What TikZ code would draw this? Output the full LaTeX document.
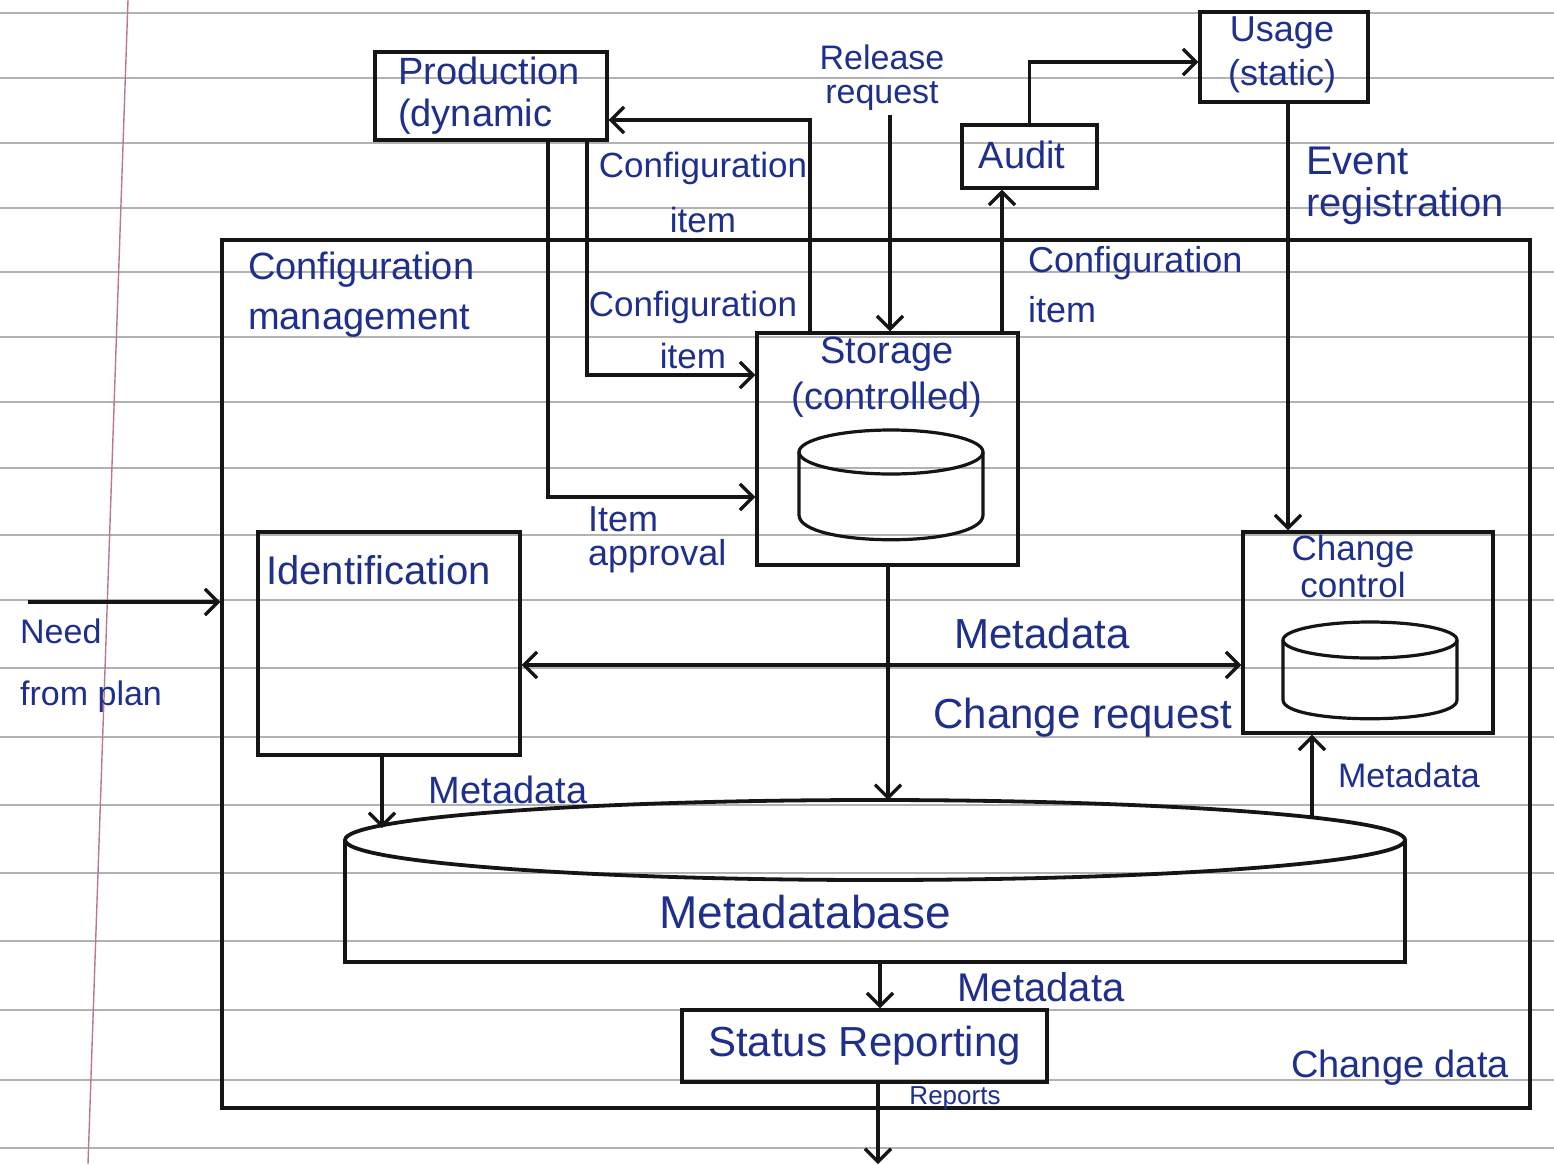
\documentclass[tikz,border=0pt]{standalone}
\usepackage{fontspec}
\setmainfont{Liberation Sans}
\usetikzlibrary{arrows.meta,calc}
\definecolor{inkblue}{HTML}{1E2F8C}
\definecolor{inkblack}{HTML}{151515}
\definecolor{marginred}{HTML}{B9788C}
\newcommand\lfs[2]{\fontsize{#1}{#2}\selectfont}
\tikzset{
  mytip/.tip={Straight Barb[length=13pt,width=26pt]},
  box/.style={draw=inkblack, line width=3.4pt, inner sep=0pt},
  conn/.style={draw=inkblack, line width=3.3pt, -mytip},
  dconn/.style={draw=inkblack, line width=3.3pt, mytip-mytip},
  lbl/.style={text=inkblue, inner sep=0pt},
  rule/.style={draw=black!30, line width=1.6pt},
  shapeline/.style={draw=inkblack, line width=3.2pt},
}
\begin{document}
\begin{tikzpicture}[x=1pt,y=-1pt]
\useasboundingbox (0,0) rectangle (1554,1164);
\fill[white] (0,0) rectangle (1554,1164);
% lined paper
\foreach \yy in {13,78,143,208,272,337,402,468,535,600,668,737,805,873,941,1010,1080,1148}
  \draw[rule] (0,\yy) -- (1554,\yy);
\draw[marginred, line width=1.4pt] (128,0) -- (88,1164);

% outer configuration management box
\node[box, minimum width=1308pt, minimum height=868pt] (cm) at (876,674) {};
\node[lbl, anchor=west, align=left, font=\lfs{38}{50}] (cmt) at (248,295) {Configuration\\management};

% boxes
\node[box, minimum width=232pt, minimum height=88pt] (prod) at (491,96) {};
\node[lbl, anchor=west, align=left, font=\lfs{38}{42}] (prodt) at (398,96) {Production\\(dynamic};

\node[box, minimum width=168pt, minimum height=90pt] (usage) at (1284,57) {};
\node[lbl, align=center, font=\lfs{36}{44}] (usaget) at (1282,55) {Usage\\(static)};

\node[box, minimum width=135pt, minimum height=63pt] (audit) at (1029.5,156.5) {};
\node[lbl, font=\lfs{38}{42}] (auditt) at (1022,155) {Audit};

\node[box, minimum width=261pt, minimum height=232pt] (stor) at (887.5,449) {};
\node[lbl, align=center, font=\lfs{38}{46}] (stort) at (887,377) {Storage\\(controlled)};

\node[box, minimum width=250pt, minimum height=201pt] (cc) at (1368,632.5) {};
\node[lbl, align=center, font=\lfs{35}{37}] (cct) at (1353,566) {Change\\control};

\node[box, minimum width=262pt, minimum height=223pt] (id) at (389,643.5) {};
\node[lbl, anchor=west, font=\lfs{40}{44}] (idt) at (266,570) {Identification};

\node[box, minimum width=365pt, minimum height=72pt, font=\lfs{42}{46}, text=inkblue] (sr) at (864.5,1046) {Status Reporting};

% storage cylinder
\draw[shapeline] (891,452) ellipse [x radius=92, y radius=22];
\draw[shapeline] (799,452) -- (799,515) .. controls (799,548) and (983,548) .. (983,515) -- (983,452);
% change control cylinder
\draw[shapeline] (1370,640) ellipse [x radius=87, y radius=18];
\draw[shapeline] (1283,640) -- (1283,700) .. controls (1283,725) and (1457,725) .. (1457,700) -- (1457,640);

% metadatabase
\node[minimum width=1060pt, minimum height=162pt, inner sep=0pt] (mdb) at (875,881) {};
\draw[shapeline, line width=3.8pt] (875,840) ellipse [x radius=530, y radius=40];
\draw[shapeline] (345,840) -- (345,962) -- (1405,962) -- (1405,840);
\node[lbl, font=\lfs{46}{50}] (mdbt) at (805,912) {Metadatabase};

% connectors
\coordinate (needS) at (28,602);
\draw[conn] (needS) -- (needS -| cm.west);
\node[lbl, anchor=west, align=left, font=\lfs{34}{62}] (needt) at (20,666) {Need\\from plan};

\coordinate (relS) at (890,115);
\draw[conn] (relS) -- (relS |- stor.north);
\node[lbl, align=center, font=\lfs{34}{34}] (relt) at (882,78) {Release\\request};

\coordinate (s1) at ([xshift=-77.5pt]stor.north);
\coordinate (p1) at ([yshift=-24pt]prod.east);
\draw[conn] (s1) |- (p1);
\node[lbl, align=center, font=\lfs{35}{55}] (ci1) at (703,192) {Configuration\\item};

\coordinate (p2) at ([xshift=96pt]prod.south);
\coordinate (s2) at ([yshift=74pt]stor.west);
\draw[conn] (p2) |- (s2);
\node[lbl, align=center, font=\lfs{35}{52}] (ci2) at (693,330) {Configuration\\item};

\coordinate (p3) at ([xshift=57pt]prod.south);
\coordinate (s3) at ([yshift=-48pt]stor.west);
\draw[conn] (p3) |- (s3);
\node[lbl, anchor=west, align=left, font=\lfs{36}{34}] (iat) at (588,540) {Item\\approval};

\coordinate (a1) at ([xshift=-27.5pt]audit.south);
\draw[conn] (a1 |- stor.north) -- (a1);
\node[lbl, anchor=west, align=left, font=\lfs{36}{50}] (ci3) at (1028,285) {Configuration\\item};

\coordinate (u0) at ([yshift=-5pt]usage.west);
\draw[conn] (audit.north) |- (u0);

\coordinate (u1) at ([xshift=4pt]usage.south);
\draw[conn] (u1) -- (u1 |- cc.north);
\node[lbl, anchor=west, align=left, font=\lfs{40}{42}] (evt) at (1306,186) {Event\\registration};

\coordinate (mid) at (0,665);
\draw[dconn] (id.east |- mid) -- (cc.west |- mid);
\node[lbl, font=\lfs{42}{46}] (md1) at (1042,633) {Metadata};
\node[lbl, font=\lfs{42}{46}] (crt) at (1083,718) {Change request};

\coordinate (m1) at (888,800);
\draw[conn] (m1 |- stor.south) -- (m1);

\coordinate (m2) at (382,828);
\draw[conn] (m2 |- id.south) -- (m2);
\node[lbl, font=\lfs{38}{42}] (md2) at (508,790) {Metadata};

\coordinate (m3) at (1312,817);
\draw[conn] (m3) -- (m3 |- cc.south);
\node[lbl, font=\lfs{34}{38}] (md3) at (1409,775) {Metadata};

\coordinate (m4) at (880,962);
\draw[conn] (m4) -- (m4 |- sr.north);
\node[lbl, font=\lfs{40}{44}] (md4) at (1041,987) {Metadata};

\coordinate (out) at (878,1164);
\draw[conn] (out |- sr.south) -- (out);
\node[lbl, font=\lfs{26}{30}] (rept) at (955,1098) {Reports};

\node[lbl, font=\lfs{38}{42}] (cdt) at (1400,1068) {Change data};
\end{tikzpicture}
\end{document}
